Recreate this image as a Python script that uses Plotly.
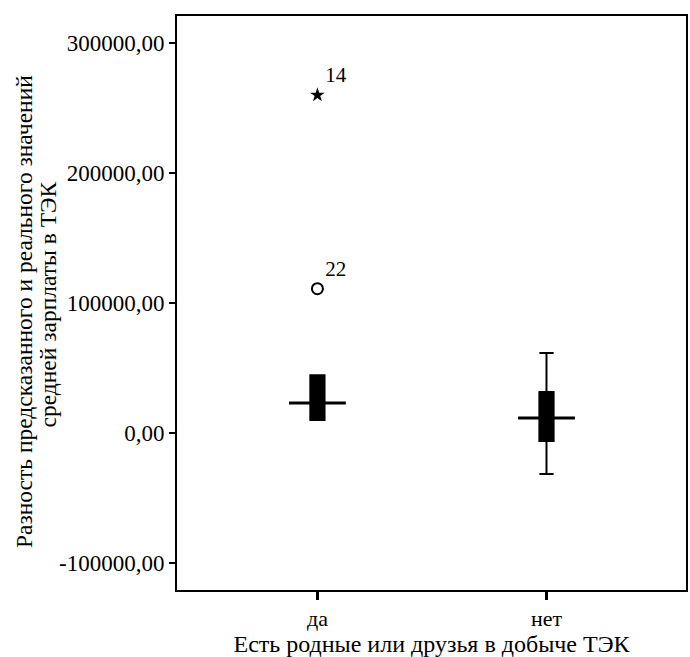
import plotly.graph_objects as go

# Data
categories = ["да", "нет"]
cat_pos = [0, 1]
q1 = [10000, -6200]
median = [23000, 11500]
q3 = [44500, 31500]
lower_fence = [10000, -31500]
upper_fence = [44500, 61500]

extreme_pos = [0]
extreme_val = [260000]
extreme_lbl = ["14"]
outlier_pos = [0]
outlier_val = [111000]
outlier_lbl = ["22"]

y_tickvals = [300000, 200000, 100000, 0, -100000]
y_ticktext = ["300000,00", "200000,00", "100000,00", "0,00", "-100000,00"]

FONT = "'Liberation Serif', 'Times New Roman', 'DejaVu Serif', serif"
fig = go.Figure()

fig.add_trace(go.Box(
    x=cat_pos, q1=q1, median=median, q3=q3,
    lowerfence=lower_fence, upperfence=upper_fence,
    width=0.062, whiskerwidth=1.0,
    fillcolor="black", line=dict(color="black", width=2),
    boxpoints=False, showlegend=False, hoverinfo="skip"))

# median lines extending beyond box
half = 0.124
for p, m in zip(cat_pos, median):
    fig.add_trace(go.Scatter(x=[p - half, p + half], y=[m, m], mode="lines",
                             line=dict(color="black", width=3), showlegend=False,
                             hoverinfo="skip"))

fig.add_trace(go.Scatter(x=extreme_pos, y=extreme_val, mode="markers+text",
                         marker=dict(symbol="star", size=11, color="black"),
                         text=extreme_lbl, textposition="top right",
                         textfont=dict(family=FONT, size=21, color="black"),
                         showlegend=False))
fig.add_trace(go.Scatter(x=outlier_pos, y=outlier_val, mode="markers+text",
                         marker=dict(symbol="circle-open", size=11, color="black",
                                     line=dict(width=2, color="black")),
                         text=outlier_lbl, textposition="top right",
                         textfont=dict(family=FONT, size=21, color="black"),
                         showlegend=False))

fig.update_layout(
    width=690, height=657,
    margin=dict(l=177, r=2, t=16, b=67),
    plot_bgcolor="white", paper_bgcolor="white",
    font=dict(family=FONT, size=22, color="black"),
    xaxis=dict(range=[-0.613, 1.609], tickvals=cat_pos, ticktext=categories,
               showgrid=False, zeroline=False, showline=True, mirror=True,
               linecolor="black", linewidth=2, ticks="outside", ticklen=8,
               tickwidth=3, tickcolor="black", tickfont=dict(family=FONT, size=22),
               title=dict(text="Есть родные или друзья в добыче ТЭК",
                          font=dict(family=FONT, size=24), standoff=4)),
    yaxis=dict(range=[-120800, 320800], tickvals=y_tickvals, ticktext=y_ticktext,
               showgrid=False, zeroline=False, showline=True, mirror=True,
               linecolor="black", linewidth=2, ticks="outside", ticklen=6,
               tickwidth=2, tickcolor="black", tickfont=dict(family=FONT, size=23)),
    annotations=[
        dict(text="Разность предсказанного и реального значений",
             textangle=-90, xref="paper", yref="paper",
             x=(23 - 177) / 511, y=(590 - 311.5) / 574,
             xanchor="center", yanchor="middle", showarrow=False,
             font=dict(family=FONT, size=23.5, color="black")),
        dict(text="средней зарплаты в ТЭК",
             textangle=-90, xref="paper", yref="paper",
             x=(47 - 177) / 511, y=(590 - 305) / 574,
             xanchor="center", yanchor="middle", showarrow=False,
             font=dict(family=FONT, size=23.5, color="black")),
    ],
)

fig.write_html("out.html")
